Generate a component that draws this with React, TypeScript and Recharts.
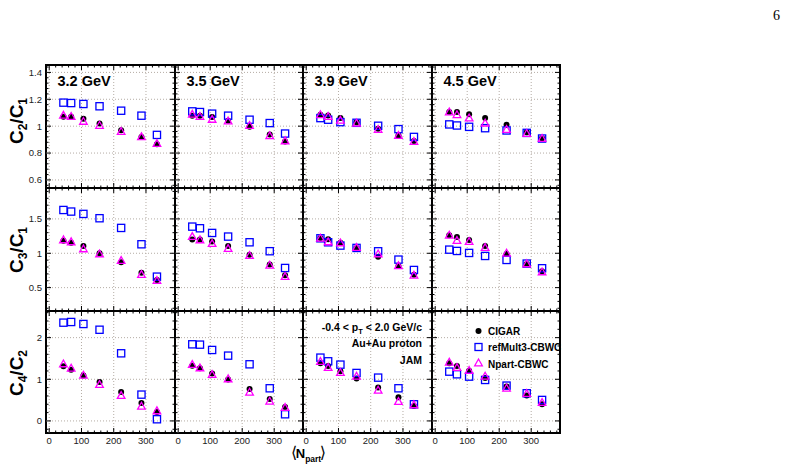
import React from "react";
import { ScatterChart, Scatter, XAxis, YAxis, ReferenceLine, ReferenceArea, Legend } from "recharts";

// Mean number of participants for each centrality class
const NPART = [44, 68, 106, 156, 223, 286, 334];
const ENERGIES = ["3.2 GeV", "3.5 GeV", "3.9 GeV", "4.5 GeV"];
const METHODS = ["CIGAR", "refMult3-CBWC", "Npart-CBWC"];

// C2/C1 — one row per energy
const C2C1_CIGAR = [
  [1.07, 1.07, 1.055, 1.02, 0.97, 0.92, 0.865],
  [1.078, 1.078, 1.068, 1.04, 0.995, 0.938, 0.885],
  [1.085, 1.08, 1.06, 1.03, 0.98, 0.93, 0.89],
  [1.105, 1.105, 1.088, 1.06, 1.01, 0.955, 0.91],
];
const C2C1_REFMULT3 = [
  [1.175, 1.172, 1.165, 1.148, 1.115, 1.078, 0.935],
  [1.11, 1.105, 1.093, 1.078, 1.048, 1.023, 0.945],
  [1.06, 1.048, 1.03, 1.025, 1.003, 0.978, 0.92],
  [1.013, 1.005, 0.995, 0.985, 0.968, 0.95, 0.908],
];
const C2C1_NPART = [
  [1.08, 1.072, 1.035, 1.005, 0.96, 0.92, 0.87],
  [1.088, 1.072, 1.05, 1.038, 1.005, 0.928, 0.89],
  [1.085, 1.072, 1.043, 1.022, 0.975, 0.93, 0.885],
  [1.105, 1.085, 1.06, 1.022, 0.975, 0.945, 0.908],
];

// C3/C1
const C3C1_CIGAR = [
  [1.184, 1.155, 1.107, 1.0, 0.869, 0.718, 0.612],
  [1.199, 1.199, 1.17, 1.107, 0.98, 0.835, 0.68],
  [1.223, 1.204, 1.155, 1.078, 0.951, 0.816, 0.689],
  [1.262, 1.238, 1.194, 1.107, 0.99, 0.845, 0.738],
];
const C3C1_REFMULT3 = [
  [1.63, 1.607, 1.573, 1.51, 1.369, 1.131, 0.66],
  [1.388, 1.364, 1.296, 1.243, 1.16, 1.03, 0.786],
  [1.218, 1.16, 1.112, 1.078, 1.029, 0.908, 0.757],
  [1.053, 1.034, 1.005, 0.961, 0.903, 0.85, 0.782],
];
const C3C1_NPART = [
  [1.194, 1.165, 1.063, 0.99, 0.893, 0.689, 0.602],
  [1.243, 1.194, 1.141, 1.068, 0.966, 0.825, 0.66],
  [1.218, 1.165, 1.15, 1.083, 0.99, 0.816, 0.68],
  [1.262, 1.184, 1.17, 1.083, 1.0, 0.845, 0.728],
];

// C4/C2
const C4C2_CIGAR = [
  [1.312, 1.232, 1.088, 0.936, 0.696, 0.432, 0.216],
  [1.328, 1.264, 1.136, 0.992, 0.768, 0.528, 0.336],
  [1.384, 1.32, 1.192, 1.016, 0.8, 0.568, 0.36],
  [1.384, 1.32, 1.208, 1.032, 0.824, 0.608, 0.4],
];
const C4C2_REFMULT3 = [
  [2.36, 2.376, 2.328, 2.19, 1.624, 0.632, 0.04],
  [1.84, 1.832, 1.704, 1.568, 1.36, 0.784, 0.16],
  [1.52, 1.432, 1.352, 1.152, 1.04, 0.784, 0.4],
  [1.184, 1.12, 1.064, 0.984, 0.848, 0.664, 0.504],
];
const C4C2_NPART = [
  [1.368, 1.264, 1.096, 0.872, 0.608, 0.352, 0.24],
  [1.352, 1.272, 1.112, 1.008, 0.688, 0.472, 0.32],
  [1.424, 1.28, 1.16, 1.072, 0.736, 0.464, 0.384],
  [1.408, 1.28, 1.208, 1.072, 0.784, 0.656, 0.44],
];

// Axis ranges and tick values
const X_DOMAIN = [-10, 390];
const X_MAJOR = [0, 100, 200, 300];
const Y_DOMAINS = [
  [0.54, 1.455],
  [0.16, 1.95],
  [-0.29, 2.64],
];
const Y_MAJOR = [
  [0.6, 0.8, 1, 1.2, 1.4],
  [0.5, 1, 1.5],
  [0, 1, 2],
];
const Y_MINOR_STEP = [0.04, 0.1, 0.2];
const X_MINOR_STEP = 20;

// Panel geometry on the page
const COL_LEFT = [46, 175, 303, 432];
const COL_W = [129, 128, 129, 128];
const ROW_TOP = [65, 188, 311];
const ROW_H = [123, 123, 122];
const Y_AXIS_W = 44;
const X_AXIS_H = 24;
const PAD = 4;

const FONT = "'Liberation Sans', Arial, Helvetica, sans-serif";
const BLUE = "#0000ff";
const MAGENTA = "#ff00ff";

const ROWS = [
  { cigar: C2C1_CIGAR, ref: C2C1_REFMULT3, npart: C2C1_NPART },
  { cigar: C3C1_CIGAR, ref: C3C1_REFMULT3, npart: C3C1_NPART },
  { cigar: C4C2_CIGAR, ref: C4C2_REFMULT3, npart: C4C2_NPART },
];

function stepTicks(lo: number, hi: number, step: number): number[] {
  const out: number[] = [];
  const start = Math.ceil(lo / step - 1e-9);
  const end = Math.floor(hi / step + 1e-9);
  for (let k = start; k <= end; k++) out.push(Math.round(k * step * 1e6) / 1e6);
  return out;
}

const isMajor = (majors: number[], v: number) => majors.some((m) => Math.abs(m - v) < 1e-6);

function toPoints(vals: number[]) {
  return NPART.map((x, i) => ({ x, y: vals[i] }));
}

const DotShape = (p: any) => <circle cx={p.cx} cy={p.cy} r={3} fill="#000" />;
const SquareShape = (p: any) => (
  <rect x={p.cx - 3.6} y={p.cy - 3.6} width={7.2} height={7.2} fill="none" stroke={BLUE} strokeWidth={1.3} />
);
const TriangleShape = (p: any) => (
  <polygon
    points={`${p.cx},${p.cy - 4} ${p.cx - 3.8},${p.cy + 2.8} ${p.cx + 3.8},${p.cy + 2.8}`}
    fill="none"
    stroke={MAGENTA}
    strokeWidth={1.3}
  />
);

function makeXTick(showLabel: boolean, plotH: number) {
  return (props: any) => {
    const { x, y, payload } = props;
    const v = payload.value;
    const major = isMajor(X_MAJOR, v);
    const len = major ? 5 : 2.5;
    return (
      <g>
        <line x1={x} x2={x} y1={y} y2={y - len} stroke="#000" strokeWidth={1} />
        <line x1={x} x2={x} y1={y - plotH} y2={y - plotH + len} stroke="#000" strokeWidth={1} />
        {showLabel && major && (
          <text x={x} y={y + 11} textAnchor="middle" fontSize={9.5} fill="#222" fontFamily={FONT}>
            {String(v)}
          </text>
        )}
      </g>
    );
  };
}

function makeYTick(showLabel: boolean, plotW: number, majors: number[]) {
  return (props: any) => {
    const { x, y, payload } = props;
    const v = payload.value;
    const major = isMajor(majors, v);
    const len = major ? 5 : 2.5;
    return (
      <g>
        <line x1={x} x2={x + len} y1={y} y2={y} stroke="#000" strokeWidth={1} />
        <line x1={x + plotW} x2={x + plotW - len} y1={y} y2={y} stroke="#000" strokeWidth={1} />
        {showLabel && major && (
          <text x={x - 4} y={y + 3.4} textAnchor="end" fontSize={9.5} fill="#222" fontFamily={FONT}>
            {String(v)}
          </text>
        )}
      </g>
    );
  };
}

function LegendBox() {
  const rows = [
    { name: METHODS[0], icon: <circle cx={6.5} cy={11} r={3} fill="#000" /> },
    { name: METHODS[1], icon: <rect x={3} y={23.5} width={7} height={7} fill="none" stroke={BLUE} strokeWidth={1.3} /> },
    {
      name: METHODS[2],
      icon: <polygon points="6.5,39 2.7,45.8 10.3,45.8" fill="none" stroke={MAGENTA} strokeWidth={1.3} />,
    },
  ];
  return (
    <svg width={130} height={52} style={{ display: "block" }}>
      {rows.map((r, i) => (
        <g key={r.name}>
          {r.icon}
          <text x={16} y={14.5 + i * 16.5} fontSize={10} fontWeight="bold" fontFamily={FONT} fill="#000">
            {r.name}
          </text>
        </g>
      ))}
    </svg>
  );
}

function Panel({ row, col }: { row: number; col: number }) {
  const plotW = COL_W[col];
  const plotH = ROW_H[row];
  const width = plotW + Y_AXIS_W + PAD;
  const height = plotH + X_AXIS_H + PAD;
  const yDomain = Y_DOMAINS[row];
  const yTicks = stepTicks(yDomain[0], yDomain[1], Y_MINOR_STEP[row]);
  const xTicks = stepTicks(X_DOMAIN[0], X_DOMAIN[1], X_MINOR_STEP);
  const set = ROWS[row];
  const showLegend = row === 2 && col === 3;
  return (
    <div
      style={{
        position: "absolute",
        left: COL_LEFT[col] - Y_AXIS_W,
        top: ROW_TOP[row] - PAD,
        width,
        height,
      }}
    >
      <ScatterChart width={width} height={height} margin={{ top: PAD, right: PAD, bottom: 0, left: 0 }}>
        <XAxis
          dataKey="x"
          type="number"
          domain={X_DOMAIN}
          allowDataOverflow
          ticks={xTicks}
          interval={0}
          height={X_AXIS_H}
          axisLine={false}
          tickLine={false}
          tickSize={0}
          tickMargin={0}
          tick={makeXTick(row === 2, plotH)}
        />
        <YAxis
          dataKey="y"
          type="number"
          domain={yDomain}
          allowDataOverflow
          ticks={yTicks}
          interval={0}
          width={Y_AXIS_W}
          axisLine={false}
          tickLine={false}
          tickSize={0}
          tickMargin={0}
          tick={makeYTick(col === 0, plotW, Y_MAJOR[row])}
        />
        {X_MAJOR.map((v) => (
          <ReferenceLine key={"gx" + v} x={v} stroke="#b4aca4" strokeDasharray="1 2" strokeWidth={1} />
        ))}
        {Y_MAJOR[row].map((v) => (
          <ReferenceLine key={"gy" + v} y={v} stroke="#b4aca4" strokeDasharray="1 2" strokeWidth={1} />
        ))}
        <ReferenceArea
          x1={X_DOMAIN[0]}
          x2={X_DOMAIN[1]}
          y1={yDomain[0]}
          y2={yDomain[1]}
          fill="none"
          fillOpacity={0}
          stroke="#000"
          strokeWidth={2}
          ifOverflow="visible"
        />
        <Scatter name={METHODS[0]} data={toPoints(set.cigar[col])} shape={DotShape} isAnimationActive={false} />
        <Scatter name={METHODS[1]} data={toPoints(set.ref[col])} shape={SquareShape} isAnimationActive={false} />
        <Scatter name={METHODS[2]} data={toPoints(set.npart[col])} shape={TriangleShape} isAnimationActive={false} />
        {showLegend && (
          <Legend
            layout="vertical"
            align="center"
            verticalAlign="middle"
            content={() => <LegendBox />}
            wrapperStyle={{ left: 84, top: 13, width: 130, height: 52 }}
          />
        )}
      </ScatterChart>
    </div>
  );
}

function YTitle({ x, y, a, b }: { x: number; y: number; a: string; b: string }) {
  return (
    <text
      x={x}
      y={y}
      transform={`rotate(-90 ${x} ${y})`}
      textAnchor="middle"
      fontFamily={FONT}
      fontWeight="bold"
      fontSize={19}
      fill="#000"
    >
      C
      <tspan fontSize={12} dy={4}>
        {a}
      </tspan>
      <tspan dy={-4}>/C</tspan>
      <tspan fontSize={12} dy={4}>
        {b}
      </tspan>
    </text>
  );
}

export default function App() {
  return (
    <div
      style={{
        position: "absolute",
        left: 0,
        top: 0,
        width: 793,
        height: 473,
        background: "#fff",
        overflow: "hidden",
      }}
    >
      {ROWS.map((_, r) => COL_LEFT.map((__, c) => <Panel key={r + "-" + c} row={r} col={c} />))}
      <svg
        width={793}
        height={473}
        style={{ position: "absolute", left: 0, top: 0, pointerEvents: "none" }}
      >
        <text x={776.5} y={19.5} textAnchor="middle" fontFamily="'Liberation Serif', 'DejaVu Serif', serif" fontSize={14}>
          6
        </text>
        {ENERGIES.map((e, i) => (
          <text
            key={e}
            x={COL_LEFT[i] + 11.5}
            y={86}
            fontFamily={FONT}
            fontWeight="bold"
            fontSize={14.5}
            fill="#000"
          >
            {e}
          </text>
        ))}
        <YTitle x={23} y={121} a="2" b="1" />
        <YTitle x={23} y={250} a="3" b="1" />
        <YTitle x={23} y={373} a="4" b="2" />
        <g fontFamily={FONT} fontWeight="bold" fontSize={10.5} fill="#000" textAnchor="end">
          <text x={422} y={331}>
            -0.4 &lt; p
            <tspan fontSize={7.5} dy={2.5}>
              T
            </tspan>
            <tspan dy={-2.5}> &lt; 2.0 GeV/c</tspan>
          </text>
          <text x={422} y={347}>
            Au+Au proton
          </text>
          <text x={422} y={363.5}>
            JAM
          </text>
        </g>
        <text x={291} y={458} fontFamily={FONT} fill="#000">
          <tspan fontSize={16} fontFamily="'DejaVu Sans', sans-serif" fontWeight="normal">
            ⟨
          </tspan>
          <tspan fontSize={13} fontWeight="bold" dx={-1.5}>
            N
          </tspan>
          <tspan fontSize={8.5} fontWeight="bold" dy={4}>
            part
          </tspan>
          <tspan fontSize={16} fontFamily="'DejaVu Sans', sans-serif" fontWeight="normal" dy={-4} dx={-1.5}>
            ⟩
          </tspan>
        </text>
      </svg>
    </div>
  );
}
